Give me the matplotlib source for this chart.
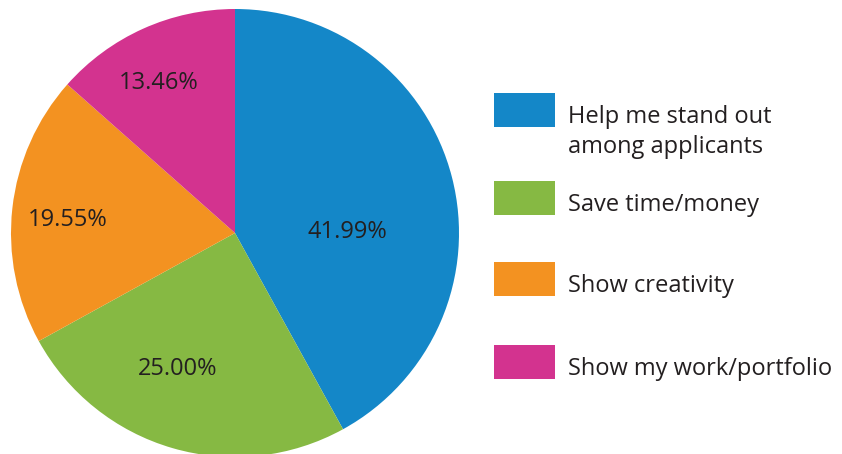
import numpy as np
import matplotlib.pyplot as plt
from matplotlib.patches import Rectangle

plt.rcParams['font.family'] = ['Open Sans', 'DejaVu Sans']

labels = ['Help me stand out\namong applicants', 'Save time/money',
          'Show creativity', 'Show my work/portfolio']
values = [41.99, 25.00, 19.55, 13.46]
colors = ['#1487c8', '#86b943', '#f39221', '#d3338f']
txt = '#231f20'

# label placement tweaks (radius, angle offset from wedge middle)
lab_r = [0.50, 0.66, 0.75, 0.75]
lab_da = [-14, -6.5, 2.0, 2.8]

fig = plt.figure(figsize=(8.42, 4.54), dpi=100)
ax = fig.add_axes([11/842, -3/454, 448/842, 448/454])

wedges, _ = ax.pie(values, colors=colors, startangle=90, counterclock=False,
                   wedgeprops=dict(linewidth=0))
ax.set_xlim(-1, 1)
ax.set_ylim(-1, 1)

for w, v, r, da in zip(wedges, values, lab_r, lab_da):
    a = np.deg2rad((w.theta1 + w.theta2) / 2 + da)
    ax.text(r*np.cos(a), r*np.sin(a), f'{v:.2f}%', ha='center', va='center',
            fontsize=17, color=txt)

# legend drawn by hand to get the spacing of the original
box_y = [93, 181, 262, 345]
for lab, c, y in zip(labels, colors, box_y):
    fig.patches.append(Rectangle((494/842, 1 - (y + 34)/454), 61/842, 34/454,
                                 transform=fig.transFigure, color=c, lw=0))
    for i, line in enumerate(lab.split('\n')):
        fig.text(568/842, 1 - (y + 30 + 30*i)/454, line, ha='left',
                 va='baseline', fontsize=17, color=txt)

fig.savefig('out.png', dpi=100)
